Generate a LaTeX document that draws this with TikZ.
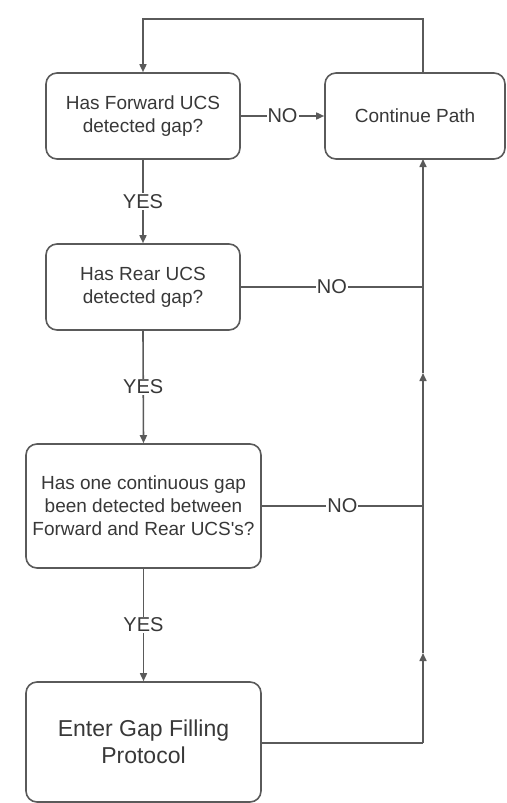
\documentclass[tikz,border=0pt]{standalone}
\usepackage{fontspec}
\setmainfont{Liberation Sans}
\usetikzlibrary{arrows.meta}
\definecolor{ink}{HTML}{383838}
\definecolor{edge}{HTML}{5A5A5A}
\tikzset{
  box/.style={draw=edge, line width=1.6pt, rounded corners=11pt, align=center,
    text=ink, font=\fontsize{19}{23}\selectfont, inner sep=0pt},
  bigbox/.style={box, font=\fontsize{23}{27}\selectfont},
  wire/.style={draw=edge, line width=1.6pt},
  arr/.style={wire, -{Triangle[length=8pt,width=7pt]}},
  lbl/.style={fill=white, text=ink, inner sep=1pt, font=\fontsize{20}{22}\selectfont}
}
\begin{document}
\begin{tikzpicture}[x=1pt,y=-1pt]
\useasboundingbox (0,0) rectangle (506,803);

% decision and action boxes
\node[box, minimum width=194pt, minimum height=86pt] (fwd) at (143,116)
  {Has Forward UCS\\detected gap?};
\node[box, minimum width=180pt, minimum height=86pt] (cont) at (415,116)
  {Continue Path};
\node[box, minimum width=194pt, minimum height=86pt] (rear) at (143,287)
  {Has Rear UCS\\detected gap?};
\node[box, minimum width=235pt, minimum height=124pt] (gap) at (143.5,506)
  {Has one continuous gap\\been detected between\\Forward and Rear UCS\textquotesingle s?};
\node[bigbox, minimum width=235pt, minimum height=120pt] (fill) at (143.5,742)
  {Enter Gap Filling\\Protocol};

% return loop coordinates
\coordinate (top1) at (423,19);
\coordinate (top0) at (143,19);
\coordinate (j2) at (423,287);
\coordinate (j3) at (423,506);
\coordinate (j4) at (423,743);
\coordinate (m1) at (423,373);
\coordinate (m2) at (423,653);
\coordinate (fillR) at (261,743);
\coordinate (contB) at (423,159);
\coordinate (contT) at (423,73);

% loop back from Continue Path to the first decision
\draw[arr] (contT) -- (top1) -- (top0) -- (fwd.north);

% YES branches
\draw[arr] (fwd.south) -- node[lbl] {YES} (rear.north);
\draw[arr] (rear.south) -- node[lbl] {YES} (gap.north);
\draw[arr] (gap.south) -- node[lbl] {YES} (fill.north);

% NO branches
\draw[arr] (fwd.east) -- node[lbl] {NO} (cont.west);
\draw[wire] (rear.east) -- node[lbl] {NO} (j2);
\draw[wire] (gap.east) -- node[lbl] {NO} (j3);

% return path up the right side
\draw[wire] (fillR) -- (j4);
\draw[arr] (j4) -- (m2);
\draw[wire] (m2) -- (j3);
\draw[arr] (j3) -- (m1);
\draw[wire] (m1) -- (j2);
\draw[arr] (j2) -- (contB);
\end{tikzpicture}
\end{document}
